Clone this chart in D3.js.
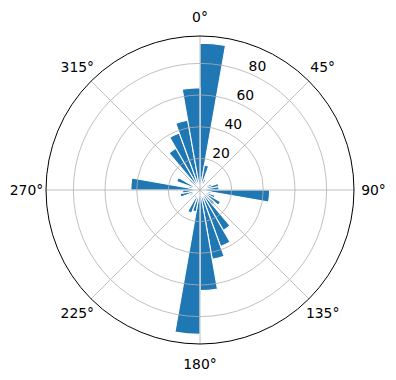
<!DOCTYPE html>
<html>
<head>
<meta charset="utf-8">
<script src="https://cdn.jsdelivr.net/npm/d3@7"></script>
<style>
  body { margin: 0; background: #fff; }
  svg { display: block; font-family: "DejaVu Sans", sans-serif; }
  .grid { fill: none; stroke: #b0b0b0; stroke-width: 0.8; }
  .oznaka { font-size: 13.9px; fill: #000; }
</style>
</head>
<body>
<div id="okvir"></div>
<script>
// 1. Podaci (smjer pocetka bina u stupnjevima, duljina stupca)

const smjerovi = d3.range(0, 360, 10)
const vrijednosti = [
  92.7, 16, 7, 3, 2, 4, 8, 12, 12,
  44, 7, 10, 15, 12, 29.5, 38, 44.5, 63.6,
  91.2, 14, 15.5, 6, 3, 4, 7, 12.8, 11,
  43.7, 7, 15.7, 5, 9, 30.5, 38.3, 44.8, 64.6,
]
const rTickovi = [20, 40, 60, 80]
const kutTickovi = [0, 45, 90, 135, 180, 225, 270, 315]
const rMax = 97.3

function crtajRuzu() {

  // 2. Dimenzije

  const dimenzije = {
    sirina: 396,
    visina: 380,
    cx: 200,
    cy: 190,
    polumjer: 154,
  }

  const okvir = d3.select("#okvir")
    .append("svg")
      .attr("width", dimenzije.sirina)
      .attr("height", dimenzije.visina)

  const granice = okvir.append("g")
      .attr("transform", `translate(${dimenzije.cx}, ${dimenzije.cy})`)

  // 3. Razmjeri

  const rScale = d3.scaleLinear()
    .domain([0, rMax])
    .range([0, dimenzije.polumjer])

  const dTr = deg => deg * Math.PI / 180

  // 4. Stupci

  const luk = d3.arc()
    .innerRadius(0)
    .outerRadius(d => rScale(d.v))
    .startAngle(d => dTr(d.kut))
    .endAngle(d => dTr(d.kut + 10))

  const podaci = smjerovi.map((kut, i) => ({ kut: kut, v: vrijednosti[i] }))

  granice.append("g")
    .selectAll("path")
    .data(podaci)
    .join("path")
      .attr("d", luk)
      .attr("fill", "#1f77b4")
      .attr("stroke", "#fff")
      .attr("stroke-width", 1.1)

  // 5. Mreza (iznad stupaca kao u matplotlibu)

  const osi = granice.append("g")

  osi.selectAll("circle.krug")
    .data(rTickovi)
    .join("circle")
      .attr("class", "grid krug")
      .attr("r", d => rScale(d))

  osi.selectAll("line")
    .data(kutTickovi)
    .join("line")
      .attr("class", "grid")
      .attr("x1", 0)
      .attr("y1", 0)
      .attr("x2", d => Math.sin(dTr(d)) * dimenzije.polumjer)
      .attr("y2", d => -Math.cos(dTr(d)) * dimenzije.polumjer)

  osi.append("circle")
    .attr("r", dimenzije.polumjer)
    .attr("fill", "none")
    .attr("stroke", "#000")
    .attr("stroke-width", 1)

  // 6. Oznake

  const rOznake = dimenzije.polumjer + 19.5
  osi.selectAll("text.kut")
    .data(kutTickovi)
    .join("text")
      .attr("class", "oznaka kut")
      .attr("x", d => Math.sin(dTr(d)) * rOznake)
      .attr("y", d => -Math.cos(dTr(d)) * rOznake)
      .attr("text-anchor", "middle")
      .attr("dominant-baseline", "central")
      .text(d => d + "°")

  const kutR = dTr(22.5)
  osi.selectAll("text.r")
    .data(rTickovi)
    .join("text")
      .attr("class", "oznaka r")
      .attr("x", d => Math.sin(kutR) * rScale(d) + 9)
      .attr("y", d => -Math.cos(kutR) * rScale(d) - 7.5)
      .attr("text-anchor", "middle")
      .attr("dominant-baseline", "central")
      .text(d => d)
}
crtajRuzu()
</script>
</body>
</html>
